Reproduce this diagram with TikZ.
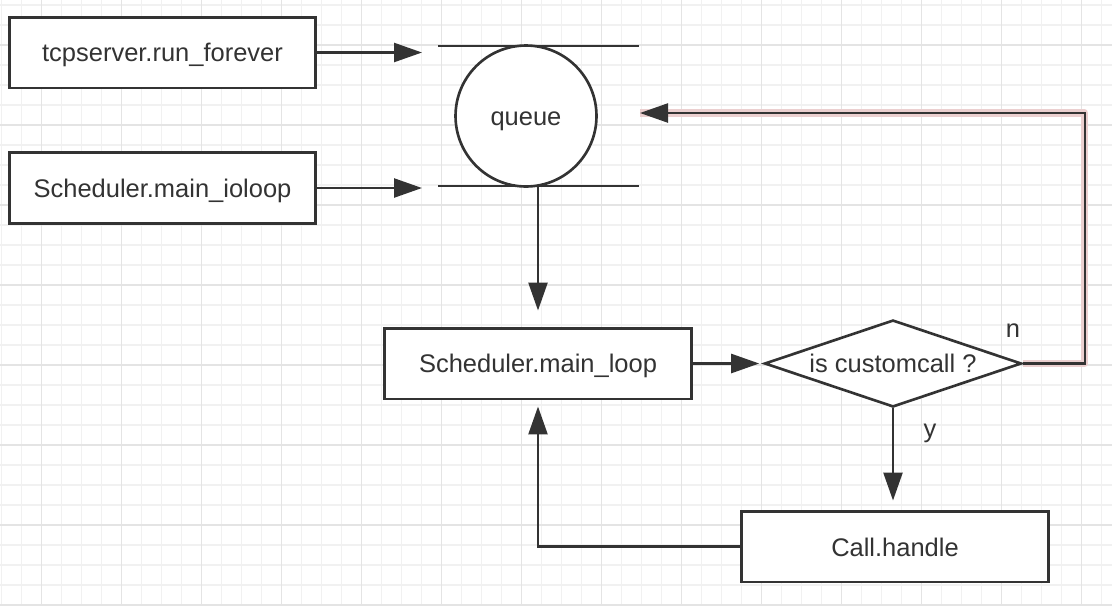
\documentclass[tikz,border=0pt]{standalone}
\usepackage{fontspec}
\setmainfont{Liberation Sans}
\usepackage{xcolor}
\usepackage{tikz}
\usetikzlibrary{calc,arrows.meta,shapes.geometric}
\definecolor{ink}{HTML}{333333}
\definecolor{gridminor}{HTML}{F1F1F1}
\definecolor{gridmajor}{HTML}{E4E4E4}
\definecolor{glow}{HTML}{EBCFCF}
\newcommand{\labfont}{\fontsize{14.5}{17}\selectfont}
\tikzset{
  box/.style={draw=ink, fill=white, line width=1.7pt, minimum width=6.14cm, minimum height=1.42cm, inner sep=0pt, text=ink, font=\labfont, text height=12.3pt, text depth=1.5pt},
  ring/.style={circle, draw=ink, fill=white, line width=1.5pt, minimum size=2.82cm, inner sep=0pt, text=ink, font=\labfont, text height=12.3pt, text depth=1.5pt},
  bar/.style={draw=ink, line width=1.5pt},
  test/.style={diamond, draw=ink, fill=white, line width=1.5pt, aspect=2.95, minimum width=5.14cm, minimum height=1.74cm, inner sep=0pt, text=ink, font=\labfont, text height=12.3pt, text depth=1.5pt},
  arr/.style={draw=ink, line width=1.4pt, -{Triangle[length=0.56cm,width=0.38cm]}},
  halo/.style={draw=glow, line width=4pt, line join=round},
  lab/.style={text=ink, font=\labfont},
  minor/.style={draw=gridminor, line width=0.8pt},
  major/.style={draw=gridmajor, line width=1pt},
}
\begin{document}
\begin{tikzpicture}[x=0.02cm, y=-0.02cm]
  % paper and grid
  \fill[white] (0,0) rectangle (1112,606);
  \useasboundingbox (0,0) rectangle (1112,606);
  \foreach \x in {1.5,21.5,...,1111} \draw[minor] (\x,0) -- (\x,606);
  \foreach \y in {5,25,...,606} \draw[minor] (0,\y) -- (1112,\y);
  \foreach \x in {41.5,121.5,...,1111} \draw[major] (\x,0) -- (\x,606);
  \foreach \y in {45,125,...,606} \draw[major] (0,\y) -- (1112,\y);

  \node[box] (run) at (162.5,52.5) {tcpserver.run\_forever};
  \node[box] (ioloop) at (162.5,188) {Scheduler.main\_ioloop};
  \node[ring] (queue) at (526,116) {queue};
  \node[box] (main) at (538,363.5) {Scheduler.main\_loop};
  \node[test] (dec) at (893,363.5) {is customcall ?};
  \node[box] (call) at (895,546.5) {Call.handle};

  \coordinate (qtl) at (438,46);
  \coordinate (qtr) at (639,46);
  \coordinate (qbl) at (438,186);
  \coordinate (qbr) at (639,186);
  \coordinate (inrun) at (422,52.5);
  \coordinate (inio) at (422,188);
  \coordinate (qout) at (538,186);
  \coordinate (inback) at (640,113);

  \draw[bar] (qtl) -- (qtr);
  \draw[bar] (qbl) -- (qbr);

  \draw[arr] (run.east) -- (inrun);
  \draw[arr] (ioloop.east) -- (inio);
  \draw[arr, shorten >=0.32cm] (qout) -- (main.north);
  \draw[arr, shorten >=0.08cm] (main.east) -- (dec.west);
  \draw[arr, shorten >=0.18cm] (dec.south) -- (dec.south |- call.north);
  \draw[arr, shorten >=0.12cm] (call.west) -| (main.south);

  \draw[halo] (dec.east) -- ++(62,0) |- (inback);
  \draw[arr] (dec.east) -- ++(62,0) |- (inback);

  \node[lab] (no) at (1013,331) {n};
  \node[lab] (yes) at (930,433) {y};
\end{tikzpicture}
\end{document}
